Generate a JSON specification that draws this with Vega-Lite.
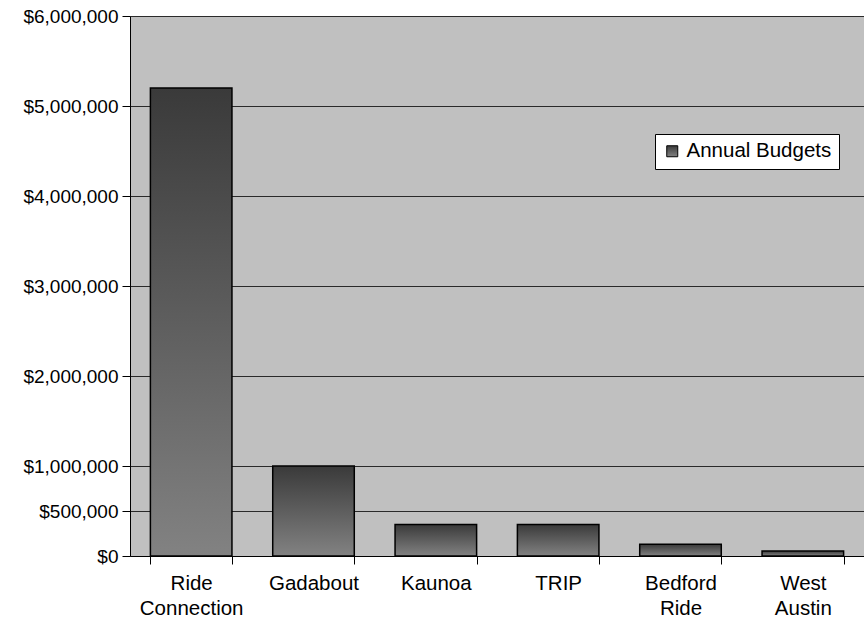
{
  "$schema": "https://vega.github.io/schema/vega-lite/v6.json",
  "width": 734,
  "height": 540,
  "autosize": {"type": "none"},
  "padding": {"left": 130, "top": 16, "right": 0, "bottom": 71},
  "background": "white",
  "config": {"view": {"fill": "#c0c0c0", "stroke": null}, "font": "Liberation Sans"},
  "data": {
    "values": [
      {"org": "Ride Connection", "budget": 5200000, "series": "Annual Budgets"},
      {"org": "Gadabout", "budget": 1000000, "series": "Annual Budgets"},
      {"org": "Kaunoa", "budget": 350000, "series": "Annual Budgets"},
      {"org": "TRIP", "budget": 350000, "series": "Annual Budgets"},
      {"org": "Bedford Ride", "budget": 130000, "series": "Annual Budgets"},
      {"org": "West Austin", "budget": 55000, "series": "Annual Budgets"}
    ]
  },
  "mark": {
    "type": "bar",
    "fill": {
      "gradient": "linear", "x1": 0, "y1": 0, "x2": 0, "y2": 1,
      "stops": [{"offset": 0, "color": "#3a3a3a"}, {"offset": 1, "color": "#828282"}]
    },
    "stroke": "black",
    "strokeWidth": 1.5
  },
  "encoding": {
    "x": {
      "field": "org", "type": "nominal", "sort": null,
      "scale": {"paddingInner": 0.3333, "paddingOuter": 0.1667},
      "axis": {
        "title": null, "domainColor": "black", "tickColor": "black", "tickBand": "extent",
        "tickSize": 8, "labelExpr": "split(datum.label, ' ')", "labelFontSize": 20.5,
        "labelColor": "black", "labelPadding": 9, "labelLineHeight": 25, "labelAngle": 0,
        "labelBaseline": "top", "grid": false
      }
    },
    "y": {
      "field": "budget", "type": "quantitative",
      "scale": {"domain": [0, 6000000], "nice": false},
      "axis": {
        "values": [0, 500000, 1000000, 2000000, 3000000, 4000000, 5000000, 6000000],
        "format": "$,.0f", "title": null, "grid": true, "gridColor": "#2a2a2a", "gridWidth": 1,
        "domainColor": "black", "tickColor": "black", "tickSize": 8, "labelFontSize": 19,
        "labelColor": "black", "labelPadding": 4
      }
    },
    "stroke": {
      "field": "series", "type": "nominal",
      "scale": {"range": ["black"]},
      "legend": {
        "title": null, "orient": "none", "legendX": 525, "legendY": 118,
        "fillColor": "white", "strokeColor": "black", "padding": 7,
        "labelFontSize": 20.5, "labelColor": "black", "symbolType": "square", "symbolSize": 121,
        "symbolFillColor": "#606060", "symbolStrokeWidth": 1
      }
    }
  }
}
